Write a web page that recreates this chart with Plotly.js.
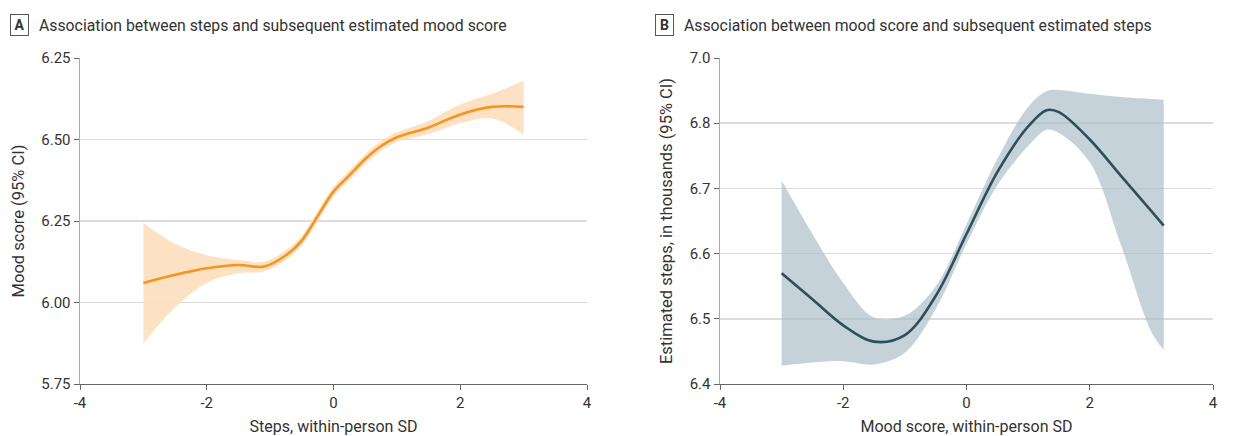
<!DOCTYPE html>
<html>
<head>
<meta charset="utf-8">
<script src="https://cdn.plot.ly/plotly-3.0.1.min.js"></script>
<style>html,body{margin:0;padding:0;background:#fff;}#chart{width:1238px;height:436px;}</style>
</head>
<body>
<div id="chart"></div>
<script>
// Panel A: steps -> mood
const stepsX     = [-3, -2.5, -2, -1.5, -1.1, -0.75, -0.5, -0.25, 0, 0.25, 0.5, 0.75, 1, 1.5, 2, 2.5, 3];
const moodMean   = [6.06, 6.085, 6.105, 6.115, 6.11, 6.145, 6.19, 6.265, 6.34, 6.39, 6.44, 6.48, 6.507, 6.537, 6.577, 6.60, 6.60];
const moodUpper  = [6.245, 6.18, 6.145, 6.13, 6.125, 6.16, 6.205, 6.28, 6.355, 6.405, 6.455, 6.495, 6.522, 6.557, 6.607, 6.64, 6.68];
const moodLower  = [5.875, 5.985, 6.06, 6.09, 6.095, 6.13, 6.175, 6.25, 6.325, 6.375, 6.425, 6.465, 6.492, 6.517, 6.55, 6.565, 6.515];
const aTickVals  = [5.75, 6.0, 6.25, 6.5, 6.75];
const aTickText  = ["5.75", "6.00", "6.25", "6.50", "6.25"];

// Panel B: mood -> steps (thousands)
const moodX      = [-3, -2.5, -2, -1.5, -1, -0.5, 0, 0.5, 1, 1.3, 1.5, 2, 2.5, 3, 3.2];
const stepsMean  = [6.57, 6.53, 6.49, 6.465, 6.475, 6.535, 6.63, 6.725, 6.795, 6.82, 6.817, 6.775, 6.72, 6.665, 6.643];
const stepsUpper = [6.712, 6.63, 6.555, 6.502, 6.505, 6.55, 6.645, 6.745, 6.825, 6.849, 6.851, 6.845, 6.84, 6.837, 6.836];
const stepsLower = [6.428, 6.433, 6.435, 6.43, 6.448, 6.515, 6.615, 6.705, 6.765, 6.79, 6.785, 6.74, 6.615, 6.48, 6.452];
const bTickVals  = [6.4, 6.5, 6.6, 6.7, 6.8, 6.9];
const bTickText  = ["6.4", "6.5", "6.6", "6.7", "6.8", "7.0"];
const xTickVals  = [-4, -2, 0, 2, 4];
const xTickText  = ["-4", "-2", "0", "2", "4"];

const FONT = '"Roboto", "Liberation Sans", sans-serif';
const orange = '#f7941d', orangeFill = 'rgba(253,222,189,0.9)';
const teal = '#2c4f5c', tealFill = 'rgba(170,188,199,0.68)';

function bandLower(x, lo, xa, ya) {
  return {x: x, y: lo, type: 'scatter', mode: 'lines',
    line: {width: 0, shape: 'spline', smoothing: 1, color: 'rgba(0,0,0,0)'},
    hoverinfo: 'skip', xaxis: xa, yaxis: ya, showlegend: false};
}
function bandUpper(x, up, color, xa, ya) {
  return {x: x, y: up, type: 'scatter', mode: 'lines', fill: 'tonexty', fillcolor: color,
    line: {width: 0, shape: 'spline', smoothing: 1, color: 'rgba(0,0,0,0)'},
    hoverinfo: 'skip', xaxis: xa, yaxis: ya, showlegend: false};
}
function lineTr(x, y, color, xa, ya) {
  return {x: x, y: y, type: 'scatter', mode: 'lines',
    line: {color: color, width: 2.6, shape: 'spline', smoothing: 1},
    xaxis: xa, yaxis: ya, showlegend: false};
}

const data = [
  bandLower(stepsX, moodLower, 'x', 'y'),
  bandUpper(stepsX, moodUpper, orangeFill, 'x', 'y'),
  lineTr(stepsX, moodMean, orange, 'x', 'y'),
  bandLower(moodX, stepsLower, 'x2', 'y2'),
  bandUpper(moodX, stepsUpper, tealFill, 'x2', 'y2'),
  lineTr(moodX, stepsMean, teal, 'x2', 'y2')
];

const xaxBase = {
  range: [-4, 4], tickvals: xTickVals, ticktext: xTickText,
  showgrid: false, zeroline: false, showline: true, linecolor: '#666', linewidth: 1,
  ticks: 'outside', ticklen: 5, tickcolor: '#666', tickfont: {family: FONT, size: 15, color: '#333'},
  fixedrange: true
};
const yaxBase = {
  showgrid: true, gridcolor: '#dcdcdc', gridwidth: 1.6, zeroline: false,
  showline: true, linecolor: '#aaa', linewidth: 1.5,
  ticks: 'outside', ticklen: 5, tickcolor: '#666', tickfont: {family: FONT, size: 15, color: '#333'},
  fixedrange: true
};

const layout = {
  width: 1238, height: 436,
  margin: {l: 0, r: 0, t: 58, b: 52},
  paper_bgcolor: '#fff', plot_bgcolor: '#fff',
  font: {family: FONT, color: '#333'},
  xaxis: Object.assign({}, xaxBase, {domain: [80/1238, 587/1238], anchor: 'y',
    title: {text: 'Steps, within-person SD', font: {family: FONT, size: 16, color: '#333'}, standoff: 10}}),
  yaxis: Object.assign({}, yaxBase, {domain: [0, 1], anchor: 'x', range: [5.75, 6.75],
    tickvals: aTickVals, ticktext: aTickText,
    title: {text: 'Mood score (95% CI)', font: {family: FONT, size: 16.5, color: '#333'}, standoff: 12}}),
  xaxis2: Object.assign({}, xaxBase, {domain: [720/1238, 1213/1238], anchor: 'y2',
    title: {text: 'Mood score, within-person SD', font: {family: FONT, size: 16, color: '#333'}, standoff: 10}}),
  yaxis2: Object.assign({}, yaxBase, {domain: [0, 1], anchor: 'x2', range: [6.4, 6.9],
    tickvals: bTickVals, ticktext: bTickText,
    title: {text: 'Estimated steps, in thousands (95% CI)', font: {family: FONT, size: 16.5, color: '#333'}, standoff: 13}}),
  annotations: [
    {xref: 'paper', yref: 'paper', x: 10/1238, y: 1, yshift: 33, xanchor: 'left', yanchor: 'middle',
     text: '<b>A</b>', showarrow: false, bordercolor: '#555', borderwidth: 1, borderpad: 2,
     font: {family: FONT, size: 14, color: '#333'}, width: 13},
    {xref: 'paper', yref: 'paper', x: 37/1238, y: 1, yshift: 33, xanchor: 'left', yanchor: 'middle',
     text: 'Association between steps and subsequent estimated mood score', showarrow: false,
     font: {family: FONT, size: 15.8, color: '#333'}},
    {xref: 'paper', yref: 'paper', x: 655/1238, y: 1, yshift: 33, xanchor: 'left', yanchor: 'middle',
     text: '<b>B</b>', showarrow: false, bordercolor: '#555', borderwidth: 1, borderpad: 2,
     font: {family: FONT, size: 14, color: '#333'}, width: 13},
    {xref: 'paper', yref: 'paper', x: 682/1238, y: 1, yshift: 33, xanchor: 'left', yanchor: 'middle',
     text: 'Association between mood score and subsequent estimated steps', showarrow: false,
     font: {family: FONT, size: 15.8, color: '#333'}}
  ]
};

Plotly.newPlot('chart', data, layout, {displayModeBar: false, staticPlot: true});
</script>
</body>
</html>
